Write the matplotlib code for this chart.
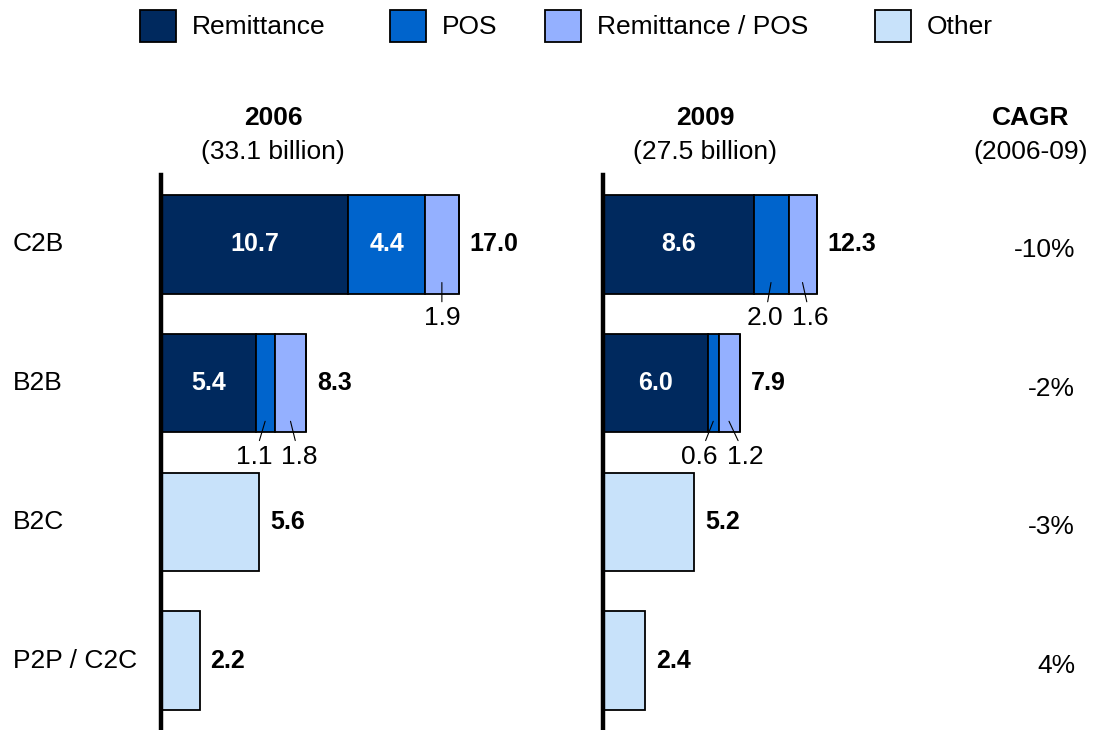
import matplotlib.pyplot as plt
from matplotlib.patches import Rectangle
from matplotlib import transforms

plt.rcParams['font.family'] = ['Liberation Sans', 'DejaVu Sans']

# data
categories = ["C2B", "B2B", "B2C", "P2P / C2C"]
series = ["Remittance", "POS", "Remittance / POS", "Other"]
colors = ["#00295E", "#0064CC", "#94B0FF", "#C8E2FA"]

rem_2006 = [10.7, 5.4, 0, 0]
pos_2006 = [4.4, 1.1, 0, 0]
rempos_2006 = [1.9, 1.8, 0, 0]
other_2006 = [0, 0, 5.6, 2.2]
total_2006 = ["17.0", "8.3", "5.6", "2.2"]

rem_2009 = [8.6, 6.0, 0, 0]
pos_2009 = [2.0, 0.6, 0, 0]
rempos_2009 = [1.6, 1.2, 0, 0]
other_2009 = [0, 0, 5.2, 2.4]
total_2009 = ["12.3", "7.9", "5.2", "2.4"]

cagr = ["-10%", "-2%", "-3%", "4%"]
years = ["2006", "2009"]
year_totals = ["(33.1 billion)", "(27.5 billion)"]

# which segments get a label outside the bar: (row, segment, x shift)
outside_2006 = [(0, 2, 0.0), (1, 1, -0.6), (1, 2, 0.5)]
outside_2009 = [(0, 1, -0.35), (0, 2, 0.45), (1, 1, -0.8), (1, 2, 0.95)]

W, H = 1096, 730
fig = plt.figure(figsize=(W / 100, H / 100), dpi=100)

scale = 17.5  # px per billion
xmax = 20
bar_h = 0.71


def panel(left_px, segs, totals, outside):
    ax = fig.add_axes([left_px / W, 0, xmax * scale / W, 555 / H])
    ax.set_xlim(0, xmax)
    ax.set_ylim(3.5, -0.5)
    for s in ["top", "right", "bottom"]:
        ax.spines[s].set_visible(False)
    ax.spines["left"].set_linewidth(3.2)
    ax.set_xticks([])
    ax.set_yticks([])
    ax.patch.set_alpha(0)
    rows = range(len(categories))
    lefts = [0] * len(categories)
    for k, vals in enumerate(segs):
        ax.barh(rows, vals, left=lefts, height=bar_h, color=colors[k],
                edgecolor="black", linewidth=1.3)
        for i, v in enumerate(vals):
            if v >= 4 and k < 3:
                ax.text(lefts[i] + v / 2, i, f"{v:.1f}", color="white",
                        fontsize=18, fontweight="bold", ha="center", va="center")
        lefts = [a + b for a, b in zip(lefts, vals)]
    for i, t in enumerate(totals):
        ax.annotate(t, (lefts[i], i), xytext=(8, 0), textcoords="offset points",
                    fontsize=18, fontweight="bold", ha="left", va="center")
    for row, k, dx in outside:
        start = sum(segs[j][row] for j in range(k))
        v = segs[k][row]
        cx = start + v / 2
        ax.annotate(f"{v:.1f}", (cx, row + bar_h / 2 - 0.08),
                    xytext=(cx + dx, row + 0.53), textcoords="data",
                    fontsize=19, ha="center", va="center",
                    arrowprops=dict(arrowstyle="-", lw=0.8, color="black",
                                    shrinkA=1, shrinkB=0))
    return ax


ax1 = panel(161, [rem_2006, pos_2006, rempos_2006, other_2006], total_2006, outside_2006)
ax2 = panel(603, [rem_2009, pos_2009, rempos_2009, other_2009], total_2009, outside_2009)

# category labels and CAGR column
tr = transforms.blended_transform_factory(fig.transFigure, ax1.transData)
for i, c in enumerate(categories):
    fig.text(13 / W, i, c, transform=tr, fontsize=19, ha="left", va="center")
    fig.text(1075 / W, i + 0.04, cagr[i], transform=tr, fontsize=19,
             ha="right", va="center")

# headers
for xc, yr, tot in zip([273, 705], years, year_totals):
    fig.text(xc / W, 1 - 118 / H, yr, fontsize=19, fontweight="bold",
             ha="center", va="center")
    fig.text(xc / W, 1 - 152 / H, tot, fontsize=19, ha="center", va="center")
fig.text(1031 / W, 1 - 118 / H, "CAGR", fontsize=19, fontweight="bold",
         ha="center", va="center")
fig.text(1031 / W, 1 - 152 / H, "(2006-09)", fontsize=19, ha="center", va="center")

# legend
box_x = [140, 390, 545, 875]
for bx, lab, col in zip(box_x, series, colors):
    fig.patches.append(Rectangle((bx / W, 1 - 42 / H), 36 / W, 32 / H,
                                 transform=fig.transFigure, facecolor=col,
                                 edgecolor="black", linewidth=1.3))
    fig.text((bx + 52) / W, 1 - 27 / H, lab, fontsize=19, ha="left", va="center")

fig.savefig("out.png", dpi=100)
